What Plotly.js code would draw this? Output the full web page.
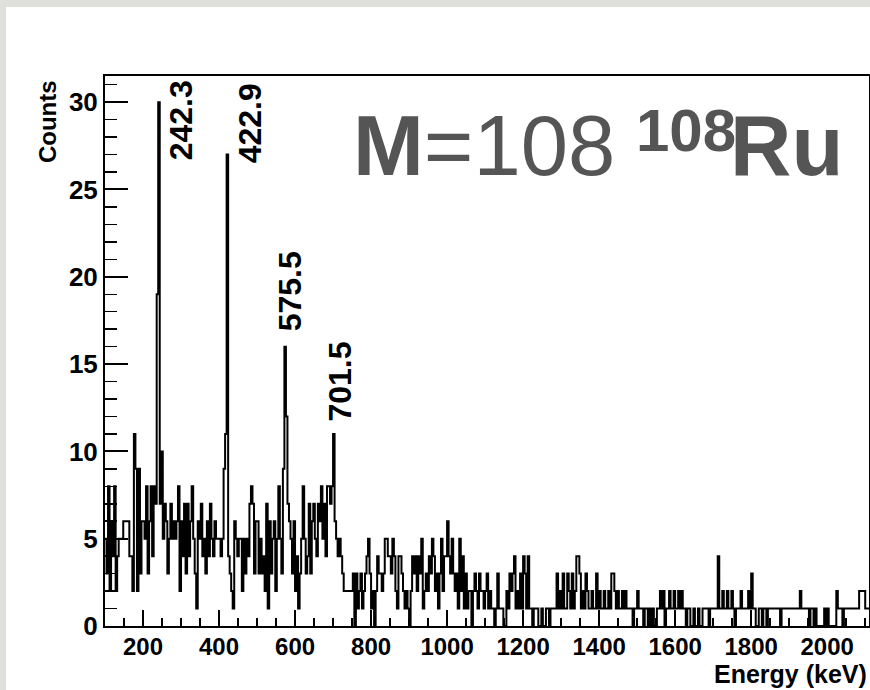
<!DOCTYPE html>
<html>
<head>
<meta charset="utf-8">
<script src="https://cdn.plot.ly/plotly-3.0.1.min.js"></script>
<style>
  html, body { margin: 0; padding: 0; }
  body { width: 870px; height: 690px; background: #dfdfdb; position: relative; overflow: hidden; }
  #chart { position: absolute; left: 6px; top: 7px; width: 864px; height: 683px; background: #ffffff; }
</style>
</head>
<body>
<div id="chart"></div>
<script>
// Gamma-ray spectrum gated on mass 108: counts per 4 keV bin, starting at 100 keV.
const binLow = 100;
const binWidth = 4;

const counts_100_200 = [5,3,8,2,6,4,8,2,4,5,5,5,6,6,6,6,4,4,2,11,9,2,9,3,6];
const counts_200_300 = [6,5,8,3,6,8,4,8,7,19,30,7,10,5,7,6,3,5,7,5,6,5,6,8,2];
const counts_300_400 = [6,4,7,3,7,4,6,8,5,3,1,6,5,7,4,5,3,6,4,7,5,4,6,5,5];
const counts_400_500 = [5,4,5,9,11,27,4,3,2,1,6,5,4,5,5,2,5,3,5,4,7,8,7,3,6];
const counts_500_600 = [6,3,5,3,4,2,7,1,6,3,5,6,2,5,8,5,3,9,16,12,7,6,5,3,6];
const counts_600_700 = [2,4,1,3,5,8,5,3,4,7,3,6,7,5,4,7,6,8,5,7,4,8,8,7,8];
const counts_700_800 = [11,6,5,4,5,4,3,2,2,2,2,2,2,3,0,3,1,2,3,1,2,3,4,5,3];
const counts_800_900 = [1,2,0,2,4,3,3,2,3,5,5,4,4,3,5,4,2,1,4,4,3,2,1,2,1];
const counts_900_1000 = [0,2,4,3,4,2,4,3,5,1,2,3,2,4,3,5,4,2,3,1,3,5,2,4,4];
const counts_1000_1100 = [6,4,3,5,3,2,3,1,5,2,4,1,3,1,2,2,0,2,3,2,1,3,2,2,1];
const counts_1100_1200 = [2,3,1,2,1,1,0,1,3,1,1,1,0,0,2,1,3,2,3,4,1,2,1,3,1];
const counts_1200_1300 = [4,3,1,4,1,1,0,1,1,1,0,0,1,0,0,1,1,0,1,1,1,1,3,1,2];
const counts_1300_1400 = [1,3,1,1,3,2,1,3,1,2,4,4,3,1,2,1,3,2,1,1,2,1,1,3,1];
const counts_1400_1500 = [2,1,1,2,1,1,2,1,3,3,2,1,2,1,1,2,1,2,1,1,1,1,0,1,1];
const counts_1500_1600 = [2,1,1,1,0,1,1,0,1,0,1,0,0,1,1,2,1,2,0,1,1,2,1,1,2];
const counts_1600_1700 = [1,1,2,1,2,1,1,0,1,1,0,0,1,0,0,1,0,0,1,1,1,1,0,1,1];
const counts_1700_1800 = [1,1,1,4,1,1,2,1,1,2,1,1,2,1,0,1,1,1,2,1,1,1,1,2,1];
const counts_1800_1900 = [3,1,1,0,0,1,1,0,1,1,0,1,1,1,1,1,1,1,1,0,1,1,1,1,1];
const counts_1900_2000 = [1,1,1,1,1,1,1,2,1,1,1,1,1,0,1,1,0,1,0,0,0,0,0,1,0];
const counts_2000_2112 = [1,0,0,0,0,0,2,1,1,1,0,1,1,1,1,1,1,1,1,1,1,2,2,2,2,1,1,1];

// Identified transitions (keV) and the height of their peak bins
const peakEnergies = [242.3, 422.9, 575.5, 701.5];
const peakLabels = ['242.3', '422.9', '575.5', '701.5'];
const peakCounts = [30, 27, 16, 11];

const counts = [].concat(
  counts_100_200, counts_200_300, counts_300_400, counts_400_500,
  counts_500_600, counts_600_700, counts_700_800, counts_800_900,
  counts_900_1000, counts_1000_1100, counts_1100_1200, counts_1200_1300,
  counts_1300_1400, counts_1400_1500, counts_1500_1600, counts_1600_1700,
  counts_1700_1800, counts_1800_1900, counts_1900_2000, counts_2000_2112
);

// Step outline: one point per bin lower edge, plus the closing upper edge
const edges = counts.map((_, i) => binLow + i * binWidth);
const stepX = edges.concat([binLow + counts.length * binWidth]);
const stepY = counts.concat([counts[counts.length - 1]]);

const histTrace = {
  type: 'scatter',
  mode: 'lines',
  x: stepX,
  y: stepY,
  line: { shape: 'hv', color: '#000000', width: 2 },
  hoverinfo: 'x+y'
};

const baseFont = 'Liberation Sans, Arial, Helvetica, sans-serif';

// Label offsets (pixels) relative to each peak top
const labelShiftX = [22, 22, 4, 6];
const labelShiftY = [-18, 31, 55, 52];

const peakAnnotations = peakEnergies.map((e, i) => ({
  x: e, y: peakCounts[i], xref: 'x', yref: 'y',
  text: '<b>' + peakLabels[i] + '</b>',
  textangle: -90,
  showarrow: false,
  xanchor: 'center', yanchor: 'middle',
  xshift: labelShiftX[i], yshift: labelShiftY[i],
  font: { family: baseFont, size: 32, color: '#000000' }
}));

// Nucleus tag: mass gate, then the isotope with its mass number as a superscript
const tagColor = '#555555';
const tagAnnotations = [
  {
    xref: 'paper', yref: 'paper', x: 0.3217, y: 0.8740,
    xanchor: 'left', yanchor: 'middle', showarrow: false,
    text: '<b>M</b>=108',
    font: { family: baseFont, size: 85, color: tagColor }
  },
  {
    xref: 'paper', yref: 'paper', x: 0.6925, y: 0.9013,
    xanchor: 'left', yanchor: 'middle', showarrow: false,
    text: '<b>108</b>',
    font: { family: baseFont, size: 60, color: tagColor }
  },
  {
    xref: 'paper', yref: 'paper', x: 0.8160, y: 0.8740,
    xanchor: 'left', yanchor: 'middle', showarrow: false,
    text: '<b>Ru</b>',
    font: { family: baseFont, size: 85, color: tagColor }
  }
];

const layout = {
  width: 864,
  height: 683,
  margin: { l: 99, r: 1, t: 69, b: 64 },
  paper_bgcolor: '#ffffff',
  plot_bgcolor: '#ffffff',
  showlegend: false,
  font: { family: baseFont, color: '#000000' },
  xaxis: {
    range: [100, 2110],
    tickmode: 'linear', tick0: 0, dtick: 200,
    ticks: 'inside', ticklen: 16, tickwidth: 2, tickcolor: '#000000',
    showline: true, linewidth: 2, linecolor: '#000000', mirror: true,
    showgrid: false, zeroline: false,
    ticklabelstandoff: -2,
    tickfont: { family: baseFont, size: 24, weight: 'bold', color: '#000000' },
    minor: { ticks: 'inside', ticklen: 8, tickwidth: 1.5, tickcolor: '#000000', tickmode: 'linear', tick0: 0, dtick: 50, showgrid: false }
  },
  yaxis: {
    range: [0, 31.5],
    tickmode: 'linear', tick0: 0, dtick: 5,
    ticks: 'inside', ticklen: 23, tickwidth: 2, tickcolor: '#000000',
    showline: true, linewidth: 2, linecolor: '#000000', mirror: true,
    showgrid: false, zeroline: false,
    tickfont: { family: baseFont, size: 26, weight: 'bold', color: '#000000' },
    minor: { ticks: 'inside', ticklen: 12, tickwidth: 1.5, tickcolor: '#000000', tickmode: 'linear', tick0: 0, dtick: 1, showgrid: false }
  },
  annotations: peakAnnotations.concat(tagAnnotations, [
    {
      xref: 'paper', yref: 'paper', x: -0.076, y: 0.997,
      xanchor: 'center', yanchor: 'top', showarrow: false, textangle: -90,
      text: '<b>Counts</b>',
      font: { family: baseFont, size: 24, color: '#000000' }
    },
    {
      xref: 'paper', yref: 'paper', x: 1.0, y: -0.087,
      xanchor: 'right', yanchor: 'middle', showarrow: false,
      text: '<b>Energy (keV)</b>',
      font: { family: baseFont, size: 25, color: '#000000' }
    }
  ])
};

Plotly.newPlot('chart', [histTrace], layout, { displayModeBar: false, staticPlot: true });
</script>
</body>
</html>
